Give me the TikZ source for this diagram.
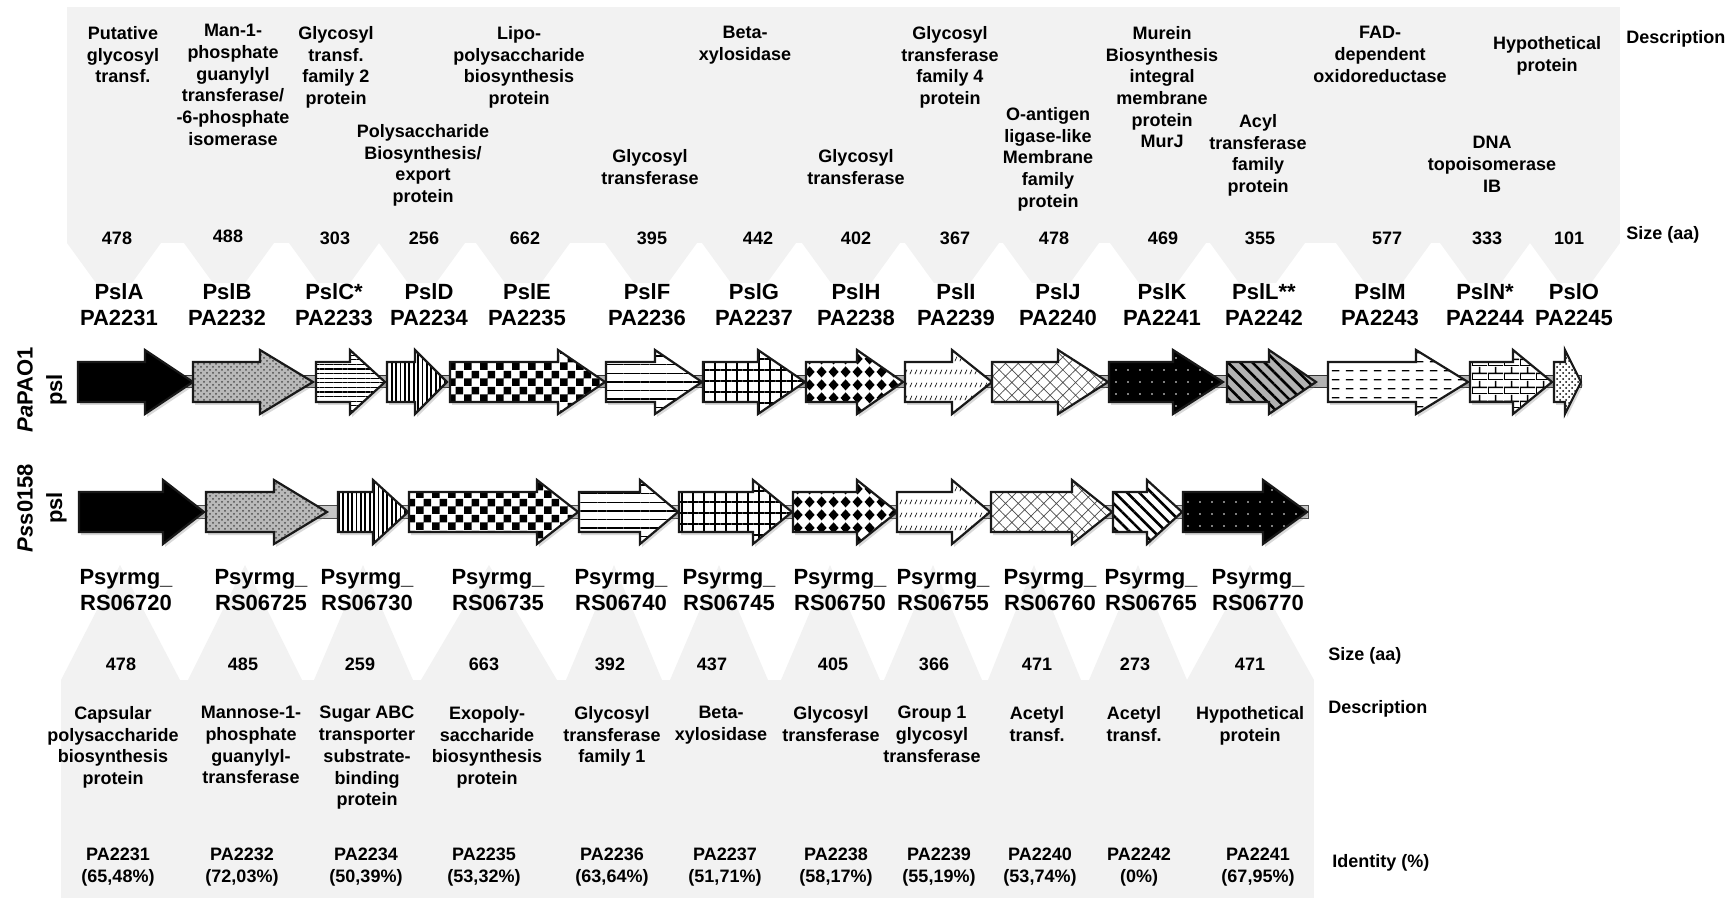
\documentclass[tikz,border=0pt]{standalone}
\usepackage{fontspec}
\setmainfont{Liberation Sans}
\usetikzlibrary{patterns,patterns.meta,shadows}

% tile patterns for the gene arrows
\pgfdeclarepatternformonly{psl checks}{\pgfpointorigin}{\pgfqpoint{8pt}{8pt}}{\pgfqpoint{8pt}{8pt}}{%
  \pgfpathrectangle{\pgfpointorigin}{\pgfqpoint{4pt}{4pt}}%
  \pgfpathrectangle{\pgfqpoint{4pt}{4pt}}{\pgfqpoint{4pt}{4pt}}%
  \pgfusepath{fill}}
\pgfdeclarepatternformonly{psl diamonds}{\pgfpointorigin}{\pgfqpoint{6pt}{6.5pt}}{\pgfqpoint{6pt}{6.5pt}}{%
  \pgfpathmoveto{\pgfqpoint{3pt}{0.3pt}}%
  \pgfpathlineto{\pgfqpoint{5.7pt}{3.25pt}}%
  \pgfpathlineto{\pgfqpoint{3pt}{6.2pt}}%
  \pgfpathlineto{\pgfqpoint{0.3pt}{3.25pt}}%
  \pgfpathclose\pgfusepath{fill}}
\pgfdeclarepatternformonly{psl slashes}{\pgfpointorigin}{\pgfqpoint{2.6pt}{6.5pt}}{\pgfqpoint{2.6pt}{6.5pt}}{%
  \pgfsetlinewidth{0.35pt}%
  \pgfpathmoveto{\pgfqpoint{0.5pt}{2pt}}%
  \pgfpathlineto{\pgfqpoint{1.7pt}{4.4pt}}%
  \pgfusepath{stroke}}
\pgfdeclarepatternformonly{psl dashes}{\pgfpointorigin}{\pgfqpoint{7pt}{4.6pt}}{\pgfqpoint{7pt}{4.6pt}}{%
  \pgfpathrectangle{\pgfqpoint{1pt}{2pt}}{\pgfqpoint{4pt}{0.7pt}}%
  \pgfusepath{fill}}
\pgfdeclarepatternformonly{psl bricks}{\pgfpointorigin}{\pgfqpoint{8pt}{7pt}}{\pgfqpoint{8pt}{7pt}}{%
  \pgfsetlinewidth{0.8pt}%
  \pgfpathmoveto{\pgfqpoint{0pt}{0pt}}\pgfpathlineto{\pgfqpoint{8pt}{0pt}}%
  \pgfpathmoveto{\pgfqpoint{0pt}{3.5pt}}\pgfpathlineto{\pgfqpoint{8pt}{3.5pt}}%
  \pgfpathmoveto{\pgfqpoint{0pt}{0pt}}\pgfpathlineto{\pgfqpoint{0pt}{3.5pt}}%
  \pgfpathmoveto{\pgfqpoint{4pt}{3.5pt}}\pgfpathlineto{\pgfqpoint{4pt}{7pt}}%
  \pgfusepath{stroke}}

% gene arrow: start, head start, tip, centre line, fill style
\newcommand{\genearrow}[5]{%
  \draw[gene,#5] (#1,#4-20) -- (#2,#4-20) -- (#2,#4-32) -- (#3,#4)
    -- (#2,#4+32) -- (#2,#4+20) -- (#1,#4+20) -- cycle;}

\tikzset{
  panel/.style={fill=gray!10},
  gene/.style={draw=black!90, line width=1.1pt, line join=miter,
    drop shadow={opacity=0.3, shadow xshift=1pt, shadow yshift=-1.5pt}},
  solidblack/.style={fill=black},
  greydots/.style={preaction={fill=gray!55}, pattern=crosshatch dots, pattern color=black!70},
  finelines/.style={preaction={fill=white}, pattern={Lines[angle=0,distance=2.3pt,line width=0.6pt]}},
  bars/.style={preaction={fill=white}, pattern={Lines[angle=90,distance=2.2pt,line width=0.9pt]}},
  checks/.style={preaction={fill=white}, pattern=psl checks},
  widelines/.style={preaction={fill=white}, pattern={Lines[angle=0,distance=4.3pt,line width=0.7pt]}},
  squares/.style={preaction={fill=white}, pattern={Hatch[angle=0,distance=5.5pt,line width=0.6pt]}},
  diamonds/.style={preaction={fill=white}, pattern=psl diamonds},
  slashes/.style={preaction={fill=white}, pattern=psl slashes},
  lattice/.style={preaction={fill=white}, pattern={Hatch[angle=45,distance=4.5pt,line width=0.35pt]}, pattern color=black!70},
  nightdots/.style={preaction={fill=black}, pattern={Dots[distance=6pt,radius=0.45pt]}, pattern color=white},
  greystripes/.style={preaction={fill=gray!60}, pattern={Lines[angle=-45,distance=4.3pt,line width=1.3pt]}},
  stripes/.style={preaction={fill=white}, pattern={Lines[angle=-45,distance=4.3pt,line width=1.3pt]}},
  dashes/.style={preaction={fill=white}, pattern=psl dashes},
  brickwall/.style={preaction={fill=white}, pattern=psl bricks},
  speckle/.style={preaction={fill=white}, pattern=crosshatch dots, pattern color=black},
  desc/.style={align=center, inner sep=0pt, anchor=north, font=\fontsize{9}{10.85}\selectfont\bfseries},
  aa/.style={inner sep=0pt, font=\fontsize{9}{10.85}\selectfont\bfseries},
  locus/.style={align=center, inner sep=0pt, anchor=north, font=\fontsize{11}{13.2}\selectfont\bfseries},
  head/.style={inner sep=0pt, anchor=west, font=\fontsize{9}{10.85}\selectfont\bfseries},
  strain/.style={align=center, inner sep=0pt, rotate=90, font=\fontsize{11}{14.8}\selectfont\bfseries}
}

\begin{document}
\begin{tikzpicture}[x=0.5pt, y=-0.5pt]
\useasboundingbox (0,0) rectangle (1735,898);

% Top panel with callouts
\fill[panel] (67,7) rectangle (1620,243);
\fill[panel] (67,243) -- (161,243) -- (132,283) -- (96,283) -- cycle;
\fill[panel] (184,243) -- (274,243) -- (245,283) -- (213,283) -- cycle;
\fill[panel] (289,243) -- (379,243) -- (350,283) -- (318,283) -- cycle;
\fill[panel] (379,243) -- (465,243) -- (436,283) -- (408,283) -- cycle;
\fill[panel] (476,243) -- (570,243) -- (541,283) -- (505,283) -- cycle;
\fill[panel] (605,243) -- (697,243) -- (668,283) -- (634,283) -- cycle;
\fill[panel] (702,243) -- (796,243) -- (767,283) -- (731,283) -- cycle;
\fill[panel] (802,243) -- (900,243) -- (871,283) -- (831,283) -- cycle;
\fill[panel] (905,243) -- (999,243) -- (970,283) -- (934,283) -- cycle;
\fill[panel] (1003,243) -- (1099,243) -- (1070,283) -- (1032,283) -- cycle;
\fill[panel] (1110,243) -- (1206,243) -- (1177,283) -- (1139,283) -- cycle;
\fill[panel] (1210,243) -- (1305,243) -- (1276,283) -- (1239,283) -- cycle;
\fill[panel] (1336,243) -- (1431,243) -- (1402,283) -- (1365,283) -- cycle;
\fill[panel] (1440,243) -- (1530,243) -- (1501,283) -- (1469,283) -- cycle;
\fill[panel] (1530,243) -- (1620,243) -- (1591,283) -- (1559,283) -- cycle;

% Bottom panel with callouts
\fill[panel] (61,680) rectangle (1314,898);
\fill[panel] (61,680) -- (180,680) -- (120,565) -- cycle;
\fill[panel] (188,680) -- (302,680) -- (245,565) -- cycle;
\fill[panel] (314,680) -- (413,680) -- (363,565) -- cycle;
\fill[panel] (421,680) -- (557,680) -- (489,565) -- cycle;
\fill[panel] (566,680) -- (662,680) -- (614,565) -- cycle;
\fill[panel] (670,680) -- (768,680) -- (719,565) -- cycle;
\fill[panel] (781,680) -- (880,680) -- (830,565) -- cycle;
\fill[panel] (884,680) -- (982,680) -- (933,565) -- cycle;
\fill[panel] (988,680) -- (1081,680) -- (1034,565) -- cycle;
\fill[panel] (1089,680) -- (1187,680) -- (1138,565) -- cycle;
\fill[panel] (1187,680) -- (1314,680) -- (1250,565) -- cycle;

% Backbones
\draw[fill=gray!60, draw=black!80, line width=0.5pt] (78,376) rectangle (1581,388);
\draw[fill=gray!45, draw=black!70, line width=0.5pt] (79,506) rectangle (1308,518);

% PaPAO1 psl
\genearrow{78}{145}{193}{382}{solidblack}
\genearrow{193}{260}{313}{382}{greydots}
\genearrow{316}{350}{385}{382}{finelines}
\genearrow{387}{415}{447}{382}{bars}
\genearrow{450}{558}{605}{382}{checks}
\genearrow{606}{655}{702}{382}{widelines}
\genearrow{703}{758}{805}{382}{squares}
\genearrow{806}{857}{903}{382}{diamonds}
\genearrow{905}{952}{992}{382}{slashes}
\genearrow{992}{1058}{1108}{382}{lattice}
\genearrow{1109}{1173}{1223}{382}{nightdots}
\genearrow{1227}{1269}{1316}{382}{greystripes}
\genearrow{1328}{1416}{1468}{382}{dashes}
\genearrow{1470}{1513}{1552}{382}{brickwall}
\genearrow{1554}{1565}{1581}{382}{speckle}

% Pss0158 psl
\genearrow{79}{163}{204}{512}{solidblack}
\genearrow{206}{274}{327}{512}{greydots}
\genearrow{338}{373}{408}{512}{bars}
\genearrow{409}{537}{578}{512}{checks}
\genearrow{579}{640}{678}{512}{widelines}
\genearrow{679}{753}{792}{512}{squares}
\genearrow{793}{857}{897}{512}{diamonds}
\genearrow{897}{952}{990}{512}{slashes}
\genearrow{991}{1072}{1112}{512}{lattice}
\genearrow{1113}{1147}{1182}{512}{stripes}
\genearrow{1183}{1263}{1307}{512}{nightdots}

% Strain labels
\node[strain] (pao1) at (42,390) {\textit{Pa}PAO1\\psl};
\node[strain] (pss) at (42,508) {\textit{Ps}s0158\\psl};

% Top descriptions
\node[desc] (descA) at (123,26) {Putative\\glycosyl\\transf.};
\node[desc] (descB) at (233,24) {Man-1-\\phosphate\\guanylyl\\transferase/\\-6-phosphate\\isomerase};
\node[desc] (descC) at (336,26) {Glycosyl\\transf.\\family 2\\protein};
\node[desc] (descD) at (423,124) {Polysaccharide\\Biosynthesis/\\export\\protein};
\node[desc] (descE) at (519,26) {Lipo-\\polysaccharide\\biosynthesis\\protein};
\node[desc] (descF) at (650,149) {Glycosyl\\transferase};
\node[desc] (descG) at (745,26) {Beta-\\xylosidase};
\node[desc] (descH) at (856,149) {Glycosyl\\transferase};
\node[desc] (descI) at (950,26) {Glycosyl\\transferase\\family 4\\protein};
\node[desc] (descJ) at (1048,107) {O-antigen\\ligase-like\\Membrane\\family\\protein};
\node[desc] (descK) at (1162,26) {Murein\\Biosynthesis\\integral\\membrane\\protein\\MurJ};
\node[desc] (descL) at (1258,114) {Acyl\\transferase\\family\\protein};
\node[desc] (descM) at (1380,26) {FAD-\\dependent\\oxidoreductase};
\node[desc] (descN) at (1492,136) {DNA\\topoisomerase\\IB};
\node[desc] (descO) at (1547,36) {Hypothetical\\protein};
\node[head] (hdesc) at (1626,39) {Description};

% Top sizes
\node[aa] (sizeA) at (117,238) {478};
\node[aa] (sizeB) at (228,236) {488};
\node[aa] (sizeC) at (335,238) {303};
\node[aa] (sizeD) at (424,238) {256};
\node[aa] (sizeE) at (525,238) {662};
\node[aa] (sizeF) at (652,238) {395};
\node[aa] (sizeG) at (758,238) {442};
\node[aa] (sizeH) at (856,238) {402};
\node[aa] (sizeI) at (955,238) {367};
\node[aa] (sizeJ) at (1054,238) {478};
\node[aa] (sizeK) at (1163,238) {469};
\node[aa] (sizeL) at (1260,238) {355};
\node[aa] (sizeM) at (1387,238) {577};
\node[aa] (sizeN) at (1487,238) {333};
\node[aa] (sizeO) at (1569,238) {101};
\node[head] (hsize) at (1626,235) {Size (aa)};

% PaPAO1 loci
\node[locus] (pslA) at (119,283) {PslA\\PA2231};
\node[locus] (pslB) at (227,283) {PslB\\PA2232};
\node[locus] (pslC) at (334,283) {PslC*\\PA2233};
\node[locus] (pslD) at (429,283) {PslD\\PA2234};
\node[locus] (pslE) at (527,283) {PslE\\PA2235};
\node[locus] (pslF) at (647,283) {PslF\\PA2236};
\node[locus] (pslG) at (754,283) {PslG\\PA2237};
\node[locus] (pslH) at (856,283) {PslH\\PA2238};
\node[locus] (pslI) at (956,283) {PslI\\PA2239};
\node[locus] (pslJ) at (1058,283) {PslJ\\PA2240};
\node[locus] (pslK) at (1162,283) {PslK\\PA2241};
\node[locus] (pslL) at (1264,283) {PslL**\\PA2242};
\node[locus] (pslM) at (1380,283) {PslM\\PA2243};
\node[locus] (pslN) at (1485,283) {PslN*\\PA2244};
\node[locus] (pslO) at (1574,283) {PslO\\PA2245};

% Pss0158 loci
\node[locus] (rs20) at (126,569) {Psyrmg\_\\RS06720};
\node[locus] (rs25) at (261,569) {Psyrmg\_\\RS06725};
\node[locus] (rs30) at (367,569) {Psyrmg\_\\RS06730};
\node[locus] (rs35) at (498,569) {Psyrmg\_\\RS06735};
\node[locus] (rs40) at (621,569) {Psyrmg\_\\RS06740};
\node[locus] (rs45) at (729,569) {Psyrmg\_\\RS06745};
\node[locus] (rs50) at (840,569) {Psyrmg\_\\RS06750};
\node[locus] (rs55) at (943,569) {Psyrmg\_\\RS06755};
\node[locus] (rs60) at (1050,569) {Psyrmg\_\\RS06760};
\node[locus] (rs65) at (1151,569) {Psyrmg\_\\RS06765};
\node[locus] (rs70) at (1258,569) {Psyrmg\_\\RS06770};

% Bottom sizes
\node[aa] (size20) at (121,664) {478};
\node[aa] (size25) at (243,664) {485};
\node[aa] (size30) at (360,664) {259};
\node[aa] (size35) at (484,664) {663};
\node[aa] (size40) at (610,664) {392};
\node[aa] (size45) at (712,664) {437};
\node[aa] (size50) at (833,664) {405};
\node[aa] (size55) at (934,664) {366};
\node[aa] (size60) at (1037,664) {471};
\node[aa] (size65) at (1135,664) {273};
\node[aa] (size70) at (1250,664) {471};
\node[head] (hsize2) at (1328,656) {Size (aa)};

% Bottom descriptions
\node[desc] (desc20) at (113,706) {Capsular\\polysaccharide\\biosynthesis\\protein};
\node[desc] (desc25) at (251,706) {Mannose-1-\\phosphate\\guanylyl-\\transferase};
\node[desc] (desc30) at (367,706) {Sugar ABC\\transporter\\substrate-\\binding\\protein};
\node[desc] (desc35) at (487,706) {Exopoly-\\saccharide\\biosynthesis\\protein};
\node[desc] (desc40) at (612,706) {Glycosyl\\transferase\\family 1};
\node[desc] (desc45) at (721,706) {Beta-\\xylosidase};
\node[desc] (desc50) at (831,706) {Glycosyl\\transferase};
\node[desc] (desc55) at (932,706) {Group 1\\glycosyl\\transferase};
\node[desc] (desc60) at (1037,706) {Acetyl\\transf.};
\node[desc] (desc65) at (1134,706) {Acetyl\\transf.};
\node[desc] (desc70) at (1250,706) {Hypothetical\\protein};
\node[head] (hdesc2) at (1328,709) {Description};

% Identity to PAO1
\node[desc] (id20) at (118,848) {PA2231\\(65,48\%)};
\node[desc] (id25) at (242,848) {PA2232\\(72,03\%)};
\node[desc] (id30) at (366,848) {PA2234\\(50,39\%)};
\node[desc] (id35) at (484,848) {PA2235\\(53,32\%)};
\node[desc] (id40) at (612,848) {PA2236\\(63,64\%)};
\node[desc] (id45) at (725,848) {PA2237\\(51,71\%)};
\node[desc] (id50) at (836,848) {PA2238\\(58,17\%)};
\node[desc] (id55) at (939,848) {PA2239\\(55,19\%)};
\node[desc] (id60) at (1040,848) {PA2240\\(53,74\%)};
\node[desc] (id65) at (1139,848) {PA2242\\(0\%)};
\node[desc] (id70) at (1258,848) {PA2241\\(67,95\%)};
\node[head] (hid) at (1332,863) {Identity (\%)};

\end{tikzpicture}
\end{document}
